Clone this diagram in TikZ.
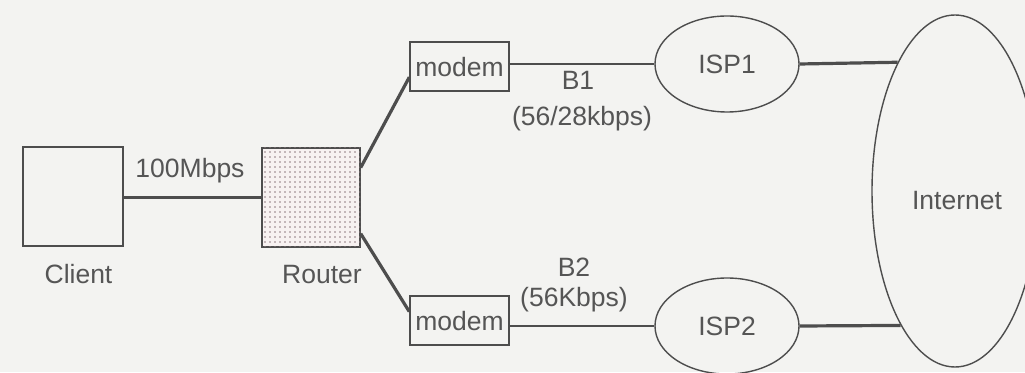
\documentclass[tikz,border=0pt]{standalone}
\usepackage{fontspec}
\setmainfont{Liberation Sans}
\usetikzlibrary{shapes.geometric,patterns.meta}
\definecolor{bg}{HTML}{F3F3F1}
\definecolor{ink}{HTML}{4D4D4D}
\definecolor{txt}{HTML}{555555}
\definecolor{dotc}{HTML}{8E7A80}
\definecolor{rfill}{HTML}{F7F1F1}
\begin{document}
\begin{tikzpicture}[x=1pt,y=1pt,
  font=\fontsize{26.5}{30}\selectfont, text=txt,
  box/.style={draw=ink, line width=1.4pt, rectangle, inner sep=0pt},
  modembox/.style={box, minimum width=99pt, minimum height=49pt, text height=21pt, text depth=0pt},
  oval/.style={draw=ink, line width=1.4pt, ellipse, inner sep=0pt},
  lbl/.style={anchor=base, inner sep=0pt},
  thickline/.style={draw=ink, line width=3.2pt},
  thinline/.style={draw=ink, line width=1.4pt}]
\useasboundingbox (0,0) rectangle (1025,372);
\fill[bg] (0,0) rectangle (1025,372);
\begin{scope}
\clip (0,0) rectangle (1025,372);
% nodes
\node[box, minimum width=100pt, minimum height=99pt] (client) at (73,175.5) {};
\node[box, minimum width=98pt, minimum height=99pt, fill=rfill,
      postaction={pattern={Dots[distance=5pt,radius=0.9pt]}, pattern color=dotc}] (router) at (311,174.5) {};
\node[modembox] (modem1) at (459.5,305.5) {modem};
\node[modembox] (modem2) at (459.5,51.5) {modem};
\node[oval, minimum width=144pt, minimum height=96pt] (isp1) at (727,308) {ISP1};
\node[oval, minimum width=144pt, minimum height=96pt] (isp2) at (727,46) {ISP2};
\node[oval, minimum width=166pt, minimum height=352pt] (internet) at (955,181) {};
% labels
\node[lbl] (lclient) at (78.5,88) {Client};
\node[lbl] (lrouter) at (322,88) {Router};
\node[lbl] (lfast) at (190,194) {100Mbps};
\node[lbl] (lb1) at (578,282) {B1};
\node[lbl] (lb1r) at (582,246) {(56/28kbps)};
\node[lbl] (lb2) at (574,95) {B2};
\node[lbl] (lb2r) at (574,65) {(56Kbps)};
\node[lbl] (linternet) at (957,162) {Internet};
% connectors
\draw[thickline] (client.east |- router.west) -- (router.west);
\draw[thickline] (router.31.9) -- (modem1.192);
\draw[thickline] (router.324.8) -- (modem2.170.3);
\draw[thinline] (isp1.west -| modem1.east) -- (isp1.west);
\draw[thinline] (isp2.west -| modem2.east) -- (isp2.west);
\draw[thickline] (isp1.east) -- (internet.114.3);
\draw[thickline] (isp2.east) -- (internet.248.5);
\end{scope}
\end{tikzpicture}
\end{document}
